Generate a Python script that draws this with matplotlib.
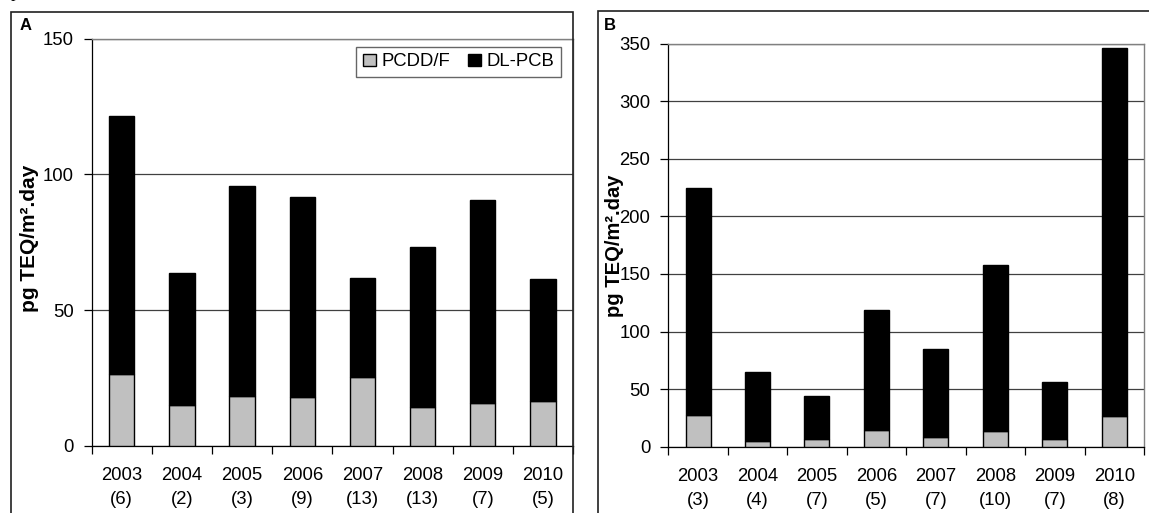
import matplotlib
matplotlib.use('Agg')
import matplotlib.pyplot as plt
from matplotlib import patches
import numpy as np

plt.rcParams['font.family'] = ['Liberation Sans', 'DejaVu Sans']

W, H = 1149, 513  # figure size in pixels

years = ['2003', '2004', '2005', '2006', '2007', '2008', '2009', '2010']

# panel A
n_a = [6, 2, 3, 9, 13, 13, 7, 5]
pcdd_a = [26.6, 15.1, 18.3, 17.9, 25.5, 14.5, 15.7, 16.7]
total_a = [121.3, 63.6, 95.6, 91.5, 61.9, 73.4, 90.6, 61.3]

# panel B
n_b = [3, 4, 7, 5, 7, 10, 7, 8]
pcdd_b = [27.5, 5.2, 6.7, 14.5, 8.1, 13.3, 6.7, 26.3]
total_b = [224.7, 65.1, 44.3, 119.0, 85.1, 158.1, 55.9, 346.3]

GREY = '#c0c0c0'
AXC = '#808080'


def px(x0, y0, x1, y1):
    # pixel box (top-left origin) -> figure fraction rect
    return [x0 / W, 1 - y1 / H, (x1 - x0) / W, (y1 - y0) / H]


def draw_panel(ax, counts, pcdd, total, ymax, step):
    x = np.arange(len(years))
    dlpcb = np.array(total) - np.array(pcdd)
    ax.bar(x, pcdd, width=0.42, color=GREY, edgecolor='black', linewidth=1.0,
           label='PCDD/F', zorder=3)
    ax.bar(x, dlpcb, bottom=pcdd, width=0.42, color='black', edgecolor='black',
           linewidth=1.0, label='DL-PCB', zorder=3)
    ax.set_xlim(-0.5, len(years) - 0.5)
    ax.set_ylim(0, ymax)
    ax.set_yticks(np.arange(0, ymax + 1, step))
    ax.yaxis.grid(True, color='#404040', linewidth=0.9, zorder=0)
    ax.set_axisbelow(True)

    # category boundary ticks, labels centred under the bars
    ax.set_xticks(np.arange(-0.5, len(years)), minor=False)
    ax.set_xticklabels([])
    ax.set_xticks(x, minor=True)
    ax.set_xticklabels(['%s\n(%d)' % (y, n) for y, n in zip(years, counts)],
                       minor=True, linespacing=1.55)
    ax.tick_params(axis='x', which='major', direction='out', length=6,
                   color='black', width=0.9)
    ax.tick_params(axis='x', which='minor', length=0, pad=15, labelsize=13.3)
    ax.tick_params(axis='y', direction='out', length=6, color='black',
                   width=0.9, labelsize=13.3, pad=7)

    for s in ['top', 'right']:
        ax.spines[s].set_color(AXC)
        ax.spines[s].set_linewidth(1.0)
    for s in ['left', 'bottom']:
        ax.spines[s].set_color('black')
        ax.spines[s].set_linewidth(0.9)
    ax.patch.set_alpha(0)


fig = plt.figure(figsize=(W / 100, H / 100), dpi=100)

# outer panel frames
fig.add_artist(patches.Rectangle((11 / W, -0.2), (573 - 11) / W, 1.2 - 12.3 / H,
                                 transform=fig.transFigure, fill=False,
                                 edgecolor='#202020', linewidth=1.2))
fig.add_artist(patches.Rectangle((597.5 / W, -0.2), 1.0, 1.2 - 10.7 / H,
                                 transform=fig.transFigure, fill=False,
                                 edgecolor='#202020', linewidth=1.2))
fig.text(11 / W, 1 + 3 / H, 'p', family='Liberation Serif', fontsize=13,
         va='baseline', ha='left')

ax_a = fig.add_axes(px(91.7, 38.5, 573, 446))
draw_panel(ax_a, n_a, pcdd_a, total_a, 150, 50)
ax_a.set_ylabel('pg TEQ/m².day', fontsize=15, fontweight='bold')
ax_a.yaxis.set_label_coords((39 - 91.7) / (573 - 91.7), 1 - (238 - 38.5) / (446 - 38.5))
leg = ax_a.legend(loc='upper right', bbox_to_anchor=(561 / W, 1 - 47 / H),
                  bbox_transform=fig.transFigure, ncol=2, fontsize=13.3,
                  frameon=True, fancybox=False, handlelength=0.7,
                  handleheight=0.7, handletextpad=0.3, columnspacing=1.0,
                  borderpad=0.35, borderaxespad=0)
leg.get_frame().set_edgecolor('#404040')
leg.get_frame().set_linewidth(1.0)
fig.text(20 / W, 1 - 25 / H, 'A', fontsize=12, fontweight='bold',
         ha='left', va='center')

ax_b = fig.add_axes(px(668.3, 43.7, 1144, 446.7))
draw_panel(ax_b, n_b, pcdd_b, total_b, 350, 50)
ax_b.set_ylabel('pg TEQ/m².day', fontsize=14.5, fontweight='bold')
ax_b.yaxis.set_label_coords((624 - 668.3) / (1144 - 668.3), 1 - (246 - 43.7) / (446.7 - 43.7))
fig.text(604 / W, 1 - 25 / H, 'B', fontsize=12, fontweight='bold',
         ha='left', va='center')

fig.savefig('out.png', dpi=100)
